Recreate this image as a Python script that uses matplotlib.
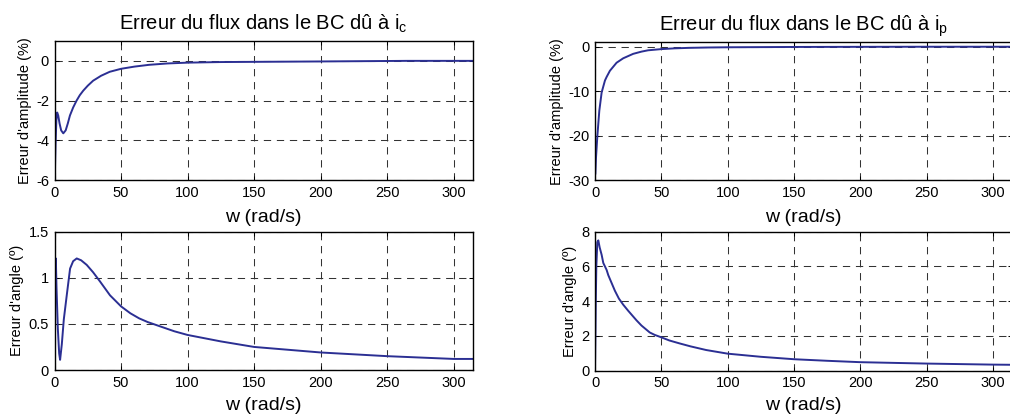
import numpy as np
import matplotlib
matplotlib.use('Agg')
import matplotlib.pyplot as plt

plt.rcParams['font.family'] = ['Liberation Sans', 'DejaVu Sans']
plt.rcParams['mathtext.fontset'] = 'custom'
plt.rcParams['mathtext.rm'] = 'Liberation Sans'
plt.rcParams['mathtext.it'] = 'Liberation Sans'

# values
w_amp_ic = [0, 0.2, 0.8, 1.4, 2.0, 2.8, 3.8, 5.0, 6.6, 8.4, 10.0, 11.6, 14.0, 16.6, 19.0, 21.6, 25.0, 29.0, 35.0, 41.5, 50, 60, 71, 85, 100, 125, 150, 200, 265, 314]
amp_ic = [-6.0, -5.85, -4.2, -3.0, -2.6, -2.75, -3.15, -3.5, -3.65, -3.5, -3.15, -2.75, -2.35, -2.0, -1.73, -1.5, -1.25, -1.0, -0.75, -0.55, -0.4, -0.29, -0.2, -0.13, -0.09, -0.06, -0.05, -0.03, 0.0, 0.0]

w_ang_ic = [0, 0.3, 0.6, 1.0, 1.5, 2.5, 3.5, 4.2, 5.5, 7.0, 9.2, 11.7, 14.0, 16.7, 20.0, 24.2, 29.0, 34.2, 41.7, 50, 57, 63.6, 70, 76, 90, 100, 125, 150, 175, 200, 250, 300, 314]
ang_ic = [0.0, 0.7, 1.1, 1.21, 0.9, 0.45, 0.18, 0.11, 0.28, 0.55, 0.81, 1.1, 1.18, 1.21, 1.19, 1.14, 1.06, 0.96, 0.81, 0.69, 0.615, 0.56, 0.52, 0.49, 0.42, 0.38, 0.31, 0.25, 0.22, 0.19, 0.15, 0.12, 0.12]

w_amp_ip = [0, 0.3, 0.75, 1.75, 3.25, 5.0, 7.5, 8.75, 11.25, 13.75, 16.25, 21.25, 28.75, 35.0, 40.0, 50, 60, 71, 85, 100, 150, 200, 250, 314]
amp_ip = [-29.0, -28.5, -25.0, -20.2, -14.4, -10.3, -7.6, -6.8, -5.4, -4.5, -3.6, -2.6, -1.6, -1.1, -0.8, -0.53, -0.36, -0.25, -0.17, -0.12, -0.05, -0.02, 0.0, 0.0]

w_ang_ip = [0, 0.4, 0.6, 1.0, 1.75, 2.5, 3.5, 5.0, 6.25, 7.5, 8.75, 10, 12.5, 15, 18, 21.25, 25, 31.25, 35, 41.25, 45, 50, 56, 63.75, 72, 83.75, 100, 125, 150, 175, 200, 250, 300, 314]
ang_ip = [0.0, 2.6, 4.0, 6.0, 7.4, 7.5, 7.1, 6.67, 6.2, 6.0, 5.8, 5.5, 5.05, 4.6, 4.15, 3.8, 3.45, 2.9, 2.6, 2.2, 2.06, 1.92, 1.74, 1.57, 1.4, 1.19, 0.98, 0.8, 0.66, 0.57, 0.49, 0.41, 0.35, 0.34]

x_ticks = [0, 50, 100, 150, 200, 250, 300]
w_max = 100 * np.pi

line_color = '#2b2f93'
W, H = 1010, 416

fig = plt.figure(figsize=(W / 100, H / 100), dpi=100)


def make_axes(left, top, right, bottom):
    return fig.add_axes([left / W, 1 - bottom / H, (right - left) / W, (bottom - top) / H])


def style(ax, ylim, yticks, ylabel, xpad):
    ax.set_xlim(0, w_max)
    ax.set_ylim(*ylim)
    ax.set_xticks(x_ticks)
    ax.set_yticks(yticks)
    ax.set_yticklabels([f'{t:g}' for t in yticks])
    ax.grid(True, color='0.2', linestyle=(0, (7, 5.5)), linewidth=0.75)
    ax.tick_params(direction='in', top=True, right=True, length=3, width=0.75,
                   labelsize=10.5, pad=4)
    for s in ax.spines.values():
        s.set_linewidth(1.0)
    ax.set_xlabel('w (rad/s)', fontsize=14, labelpad=xpad)
    ax.set_ylabel(ylabel, fontsize=10.5, labelpad=3)


ax1 = make_axes(54.5, 41, 472.7, 180)
ax1.plot(w_amp_ic, amp_ic, color=line_color, lw=1.4)
style(ax1, (-6, 1), [-6, -4, -2, 0], "Erreur d'amplitude (%)", 6.5)
ax1.set_title(r'Erreur du flux dans le BC dû à i$_\mathrm{c}$', fontsize=14.5, pad=8)

ax2 = make_axes(54.5, 231.7, 472.7, 370)
ax2.plot(w_ang_ic, ang_ic, color=line_color, lw=1.4)
style(ax2, (0, 1.5), [0, 0.5, 1, 1.5], "Erreur d'angle (º)", 5)

ax3 = make_axes(595, 42.3, 1012, 180)
ax3.plot(w_amp_ip, amp_ip, color=line_color, lw=1.4)
style(ax3, (-30, 1), [-30, -20, -10, 0], "Erreur d'amplitude (%)", 6.5)
ax3.set_title(r'Erreur du flux dans le BC dû à i$_\mathrm{p}$', fontsize=14.5, pad=8)

ax4 = make_axes(595, 231.7, 1012, 370.7)
ax4.plot(w_ang_ip, ang_ip, color=line_color, lw=1.4)
style(ax4, (0, 8), [0, 2, 4, 6, 8], "Erreur d'angle (º)", 5)

fig.savefig('out.png', dpi=100)
